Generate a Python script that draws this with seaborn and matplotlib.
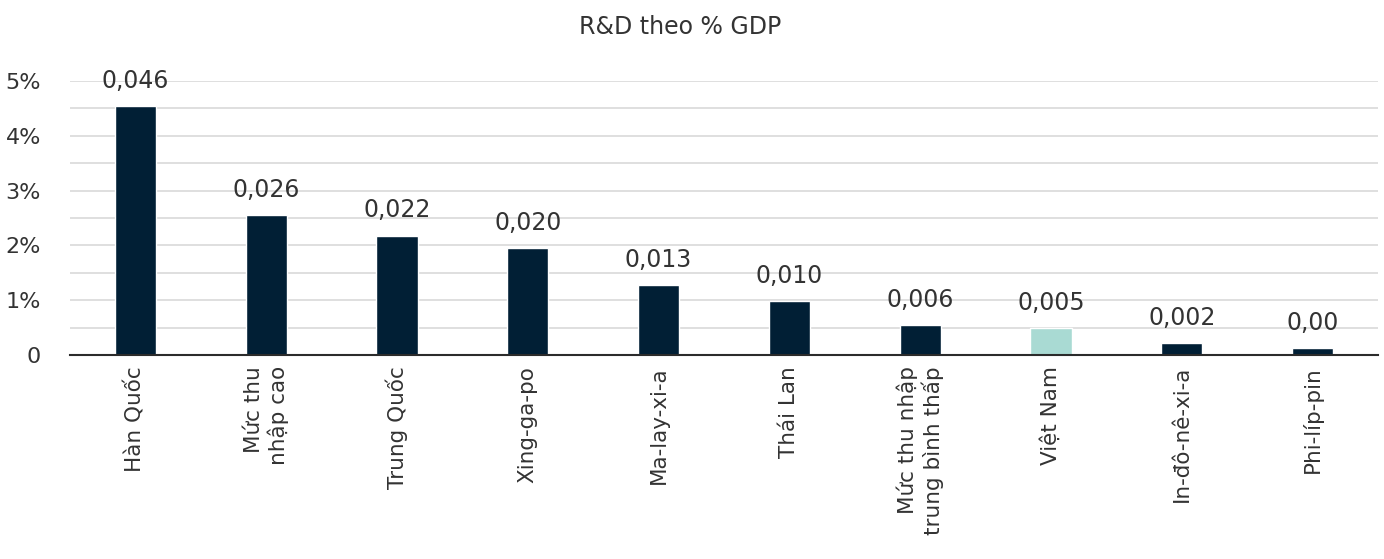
import matplotlib
matplotlib.use("Agg")
import matplotlib.pyplot as plt
from matplotlib.ticker import MultipleLocator, FuncFormatter
import seaborn as sns
import pandas as pd

# R&D spending as a share of GDP (fraction of GDP)
countries = [
    "Hàn Quốc",
    "Mức thu\nnhập cao",
    "Trung Quốc",
    "Xing-ga-po",
    "Ma-lay-xi-a",
    "Thái Lan",
    "Mức thu nhập\ntrung bình thấp",
    "Việt Nam",
    "In-đô-nê-xi-a",
    "Phi-líp-pin",
]
rd_share = [0.04551, 0.02551, 0.0218, 0.01951, 0.0127, 0.0099, 0.00551, 0.0050, 0.00225, 0.0012]
label_decimals = [3, 3, 3, 3, 3, 3, 3, 3, 3, 2]
highlight = "Việt Nam"

NAVY = "#011f35"
TEAL = "#a9dad3"
TEXT = "#333333"

sns.set_theme(style="white")
plt.rcParams["font.family"] = ["DejaVu Sans"]

df = pd.DataFrame({"country": countries, "share": rd_share})
palette = {c: (TEAL if c == highlight else NAVY) for c in countries}

fig = plt.figure(figsize=(13.84, 5.59), dpi=100)
ax = fig.add_axes([70 / 1384, 1 - 355 / 559, 1308 / 1384, 274 / 559])

sns.barplot(data=df, x="country", y="share", hue="country", palette=palette,
            legend=False, width=0.314, saturation=1, ax=ax)

ax.set_xlim(-0.5, len(countries) - 0.5)
ax.set_ylim(0, 0.05)
ax.yaxis.set_major_locator(MultipleLocator(0.01))
ax.yaxis.set_minor_locator(MultipleLocator(0.005))
ax.yaxis.set_major_formatter(FuncFormatter(lambda v, _: "0" if abs(v) < 1e-9 else f"{v * 100:.0f}%"))
ax.grid(axis="y", which="both", color="#d9d9d9", linewidth=1.2)
ax.set_axisbelow(True)

for side in ["top", "right", "left"]:
    ax.spines[side].set_visible(False)
ax.spines["bottom"].set_color("#2b2b2b")
ax.spines["bottom"].set_linewidth(1.5)
ax.spines["bottom"].set_zorder(5)

ax.tick_params(axis="y", which="both", length=0, pad=21, labelsize=16, labelcolor=TEXT)
ax.tick_params(axis="x", length=0, pad=8, labelsize=15.5, labelcolor=TEXT)
ax.set_xlabel("")
ax.set_ylabel("")

for lbl in ax.get_xticklabels():
    lbl.set_rotation(90)
    lbl.set_ha("center")
    lbl.set_va("top")
    lbl.set_multialignment("right")

# value labels above each bar
for i, (v, d) in enumerate(zip(rd_share, label_decimals)):
    txt = f"{v:.{d}f}".replace(".", ",")
    ax.annotate(txt, (i, v), xytext=(0, 13), textcoords="offset points",
                ha="center", va="baseline", fontsize=17, color=TEXT,
                annotation_clip=False)

fig.text(680 / 1384, 1 - 27 / 559, "R&D theo % GDP", ha="center", va="center",
         fontsize=17, color=TEXT)

fig.savefig("out.png", dpi=100, facecolor="white")
